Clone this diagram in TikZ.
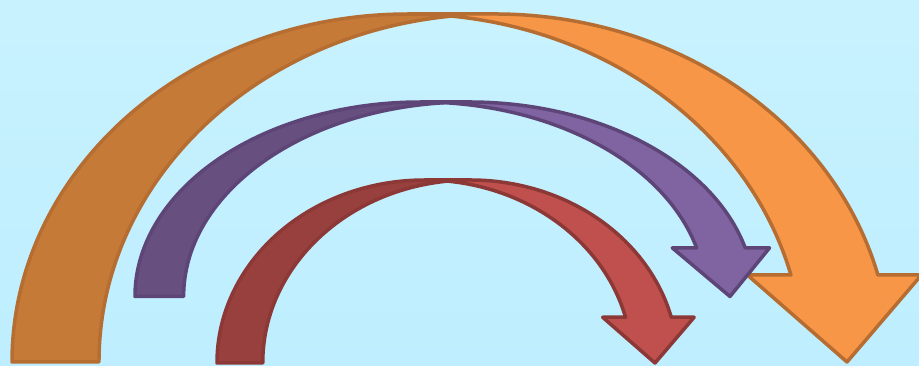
\documentclass[tikz,border=0pt]{standalone}
\usepackage{tikz}
\usepackage{xcolor}
\definecolor{bgtop}{HTML}{C8F2FE}
\definecolor{bgbottom}{HTML}{BEEEFF}
\definecolor{orfront}{HTML}{F79646}
\definecolor{orback}{HTML}{C57A38}
\definecolor{orline}{HTML}{B66D31}
\definecolor{pufront}{HTML}{8064A2}
\definecolor{puback}{HTML}{67507F}
\definecolor{puline}{HTML}{5D4677}
\definecolor{refront}{HTML}{C0504D}
\definecolor{reback}{HTML}{98403E}
\definecolor{reline}{HTML}{8C3836}

\begin{document}
\begin{tikzpicture}[x=1pt,y=1pt,band/.style={line width=3.5pt,line join=round}]
\shade[top color=bgtop,bottom color=bgbottom] (0,0) rectangle (919,366);
\useasboundingbox (0,0) rectangle (919,366);
\foreach \lft/\wid/\ybot/\hgt/\cfront/\cback/\cline in {12/922/4/348/orfront/orback/orline,135/643.6/69.5/194.5/pufront/puback/puline,217/483.75/3/183/refront/reback/reline}{
  \pgfmathsetmacro\rad{\wid/2-3*\hgt/16}
  \pgfmathsetmacro\bw{\hgt/4}
  \pgfmathsetmacro\ta{acos(\bw/(2*\rad))}
  \pgfmathsetmacro\tb{asin(0.25)}
  \pgfmathsetmacro\xa{\lft+\rad+\rad*cos(\tb)}
  \pgfmathsetmacro\xb{\xa+\bw}
  \draw[band,fill=\cfront,draw=\cline] (\xa,{\ybot+\bw}) arc[start angle=\tb,end angle=90,x radius=\rad,y radius=\hgt] -- ++(\bw,0) arc[start angle=90,end angle=\tb,x radius=\rad,y radius=\hgt] -- ({\xb+\hgt/8},{\ybot+\bw}) -- ({\lft+\wid-\hgt/4},\ybot) -- ({\xa-\hgt/8},{\ybot+\bw}) -- cycle;
  \draw[band,fill=\cback,draw=\cline] (\lft,\ybot) arc[start angle=180,end angle=\ta,x radius=\rad,y radius=\hgt] arc[start angle=180-\ta,end angle=180,x radius=\rad,y radius=\hgt] -- cycle;
}
\end{tikzpicture}
\end{document}
